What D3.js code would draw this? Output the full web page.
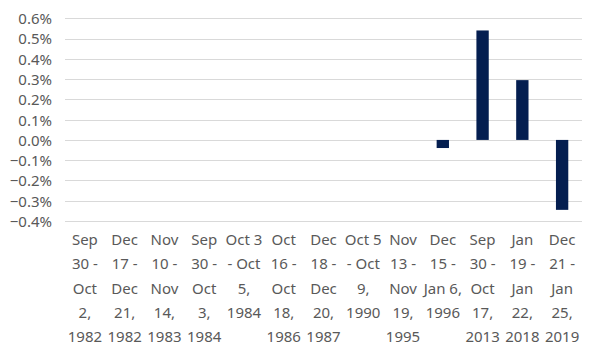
<!DOCTYPE html>
<html>
<head>
<meta charset="utf-8">
<script src="https://cdn.jsdelivr.net/npm/d3@7"></script>
<style>
  body { margin: 0; background: #fff; }
  svg text { font-family: "Noto Sans", "Open Sans", sans-serif; fill: #595959; }
</style>
</head>
<body>
<div id="chart"></div>
<script>
// periods (x categories) and value per period, in percent
var periods = [
  "Sep 30 - Oct 2, 1982",
  "Dec 17 - Dec 21, 1982",
  "Nov 10 - Nov 14, 1983",
  "Sep 30 - Oct 3, 1984",
  "Oct 3 - Oct 5, 1984",
  "Oct 16 - Oct 18, 1986",
  "Dec 18 - Dec 20, 1987",
  "Oct 5 - Oct 9, 1990",
  "Nov 13 - Nov 19, 1995",
  "Dec 15 - Jan 6, 1996",
  "Sep 30 - Oct 17, 2013",
  "Jan 19 - Jan 22, 2018",
  "Dec 21 - Jan 25, 2019"
];
var values = [null, null, null, null, null, null, null, null, null, -0.04, 0.54, 0.295, -0.345];
var yTicks = [-0.4, -0.3, -0.2, -0.1, 0, 0.1, 0.2, 0.3, 0.4, 0.5, 0.6];

var width = 600, height = 354;
var chart = {};
chart.left = 65; chart.right = 582;
chart.top = 18.3; chart.bottom = 221;

var svg = d3.select("#chart").append("svg")
  .attr("width", width).attr("height", height);

var x = d3.scaleBand().domain(periods).range([chart.left, chart.right]).paddingInner(0.69).paddingOuter(0.345);
var xb = d3.scaleBand().domain(periods).range([chart.left, chart.right]); // full band for labels
var y = d3.scaleLinear().domain([-0.4, 0.6]).range([chart.bottom, chart.top]);

//gridlines
svg.append("g").selectAll("line").data(yTicks).enter().append("line")
  .attr("x1", chart.left).attr("x2", chart.right)
  .attr("y1", function(d){return Math.round(y(d)) + 0.5})
  .attr("y2", function(d){return Math.round(y(d)) + 0.5})
  .attr("stroke", "#d9d9d9").attr("stroke-width", 1);

//y axis labels
var yAxis = d3.axisLeft(y).tickValues(yTicks).tickSize(0).tickPadding(0)
  .tickFormat(function(d){return d3.format(".1f")(d) + "%"});
var ya = svg.append("g").attr("transform", "translate(52,0)").call(yAxis);
ya.select(".domain").remove();
ya.selectAll("text").attr("font-size", 15).attr("font-family", null).attr("fill", "#595959").attr("dy", "0.36em");

//bars
var bars = periods.map(function(p, i){return {period: p, value: values[i]}})
  .filter(function(d){return d.value != null});
svg.append("g").selectAll("rect").data(bars).enter().append("rect")
  .attr("x", function(d){return x(d.period)})
  .attr("width", x.bandwidth())
  .attr("y", function(d){return y(Math.max(0, d.value))})
  .attr("height", function(d){return Math.abs(y(d.value) - y(0))})
  .attr("fill", "#041e50");

//wrapped category labels
var lineHeight = 24.3, maxWidth = 39;
var labels = svg.append("g").selectAll("text").data(periods).enter().append("text")
  .attr("x", function(d){return xb(d) + xb.bandwidth()/2})
  .attr("y", 245)
  .attr("text-anchor", "middle")
  .attr("font-size", 15);

labels.each(function(d){
  var text = d3.select(this), words = d.split(" "), line = [], lines = [];
  var tmp = text.append("tspan");
  for(var w=0; w<words.length; w++){
    line.push(words[w]);
    tmp.text(line.join(" "));
    if(tmp.node().getComputedTextLength() > maxWidth && line.length > 1){
      line.pop();
      lines.push(line.join(" "));
      line = [words[w]];
    }
  }
  lines.push(line.join(" "));
  tmp.remove();
  lines.forEach(function(l, i){
    text.append("tspan").attr("x", text.attr("x")).attr("y", 245 + i*lineHeight).text(l);
  });
});
</script>
</body>
</html>
